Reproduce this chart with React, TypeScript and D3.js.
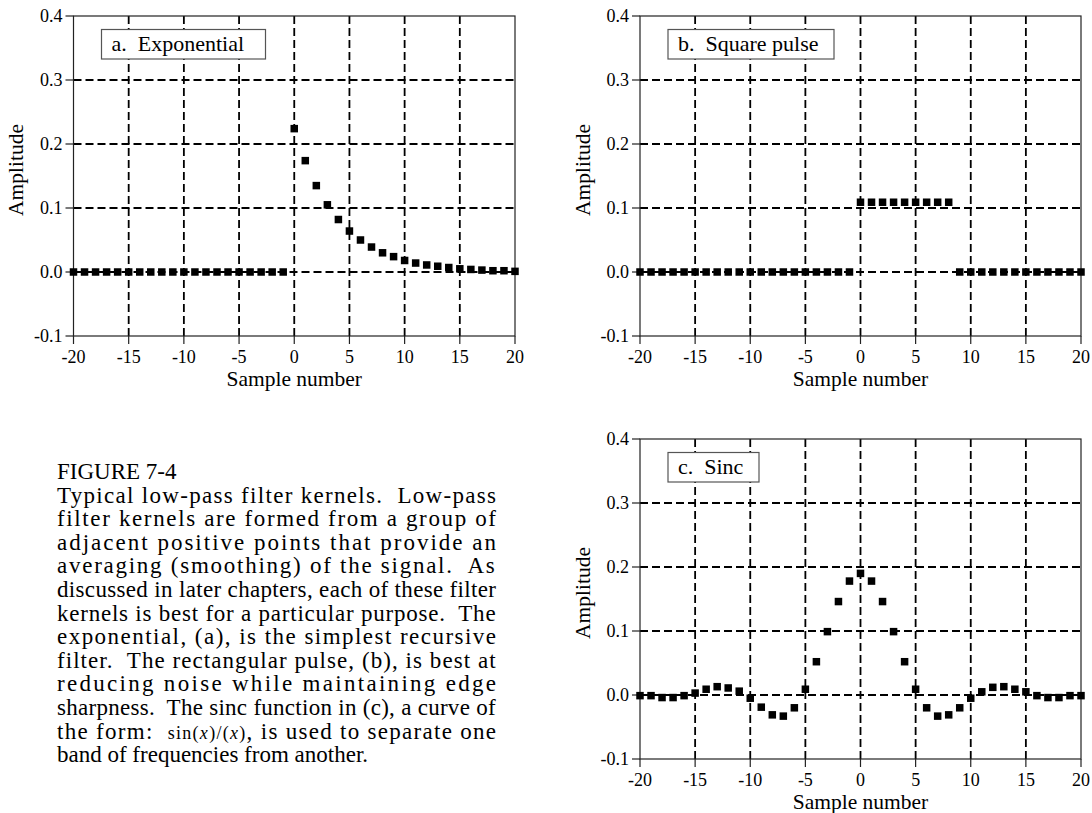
import React from 'react';
import * as d3 from 'd3';

const width = 1092;
const height = 813;
const serif = '"Liberation Serif", "Times New Roman", serif';
const nb = '\u00a0';

// sample numbers shared by the three kernels
const sampleNumbers = [
  -20, -19, -18, -17, -16, -15, -14, -13, -12, -11, -10, -9, -8, -7, -6, -5, -4, -3, -2, -1,
  0, 1, 2, 3, 4, 5, 6, 7, 8, 9, 10, 11, 12, 13, 14, 15, 16, 17, 18, 19, 20
];

const exponential = [
  0, 0, 0, 0, 0, 0, 0, 0, 0, 0, 0, 0, 0, 0, 0, 0, 0, 0, 0, 0,
  0.224, 0.174, 0.135, 0.105, 0.082, 0.064, 0.05, 0.039, 0.03, 0.024, 0.018,
  0.014, 0.011, 0.009, 0.007, 0.005, 0.004, 0.003, 0.002, 0.002, 0.001
];

const squarePulse = [
  0, 0, 0, 0, 0, 0, 0, 0, 0, 0, 0, 0, 0, 0, 0, 0, 0, 0, 0, 0,
  0.109, 0.109, 0.109, 0.109, 0.109, 0.109, 0.109, 0.109, 0.109,
  0, 0, 0, 0, 0, 0, 0, 0, 0, 0, 0, 0
];

const sinc = [
  -0.001, -0.001, -0.004, -0.004, -0.001, 0.003, 0.009, 0.013, 0.011, 0.006,
  -0.005, -0.019, -0.031, -0.033, -0.02, 0.009, 0.052, 0.099, 0.146, 0.178,
  0.19,
  0.178, 0.146, 0.099, 0.052, 0.009, -0.02, -0.033, -0.031, -0.02, -0.005,
  0.005, 0.012, 0.013, 0.009, 0.005, -0.001, -0.004, -0.004, -0.001, -0.001
];

const xTicks = [-20, -15, -10, -5, 0, 5, 10, 15, 20];
const yTicks = [-0.1, 0, 0.1, 0.2, 0.3, 0.4];
const yTickLabels = ['-0.1', '0.0', '0.1', '0.2', '0.3', '0.4'];
const legendLabels = ['a.' + nb + ' Exponential', 'b.' + nb + ' Square pulse', 'c.' + nb + ' Sinc'];

const captionTitle = 'FIGURE 7-4';
const captionLines = [
  'Typical low-pass filter kernels.' + nb + ' Low-pass',
  'filter kernels are formed from a group of',
  'adjacent positive points that provide an',
  'averaging (smoothing) of the signal.' + nb + ' As',
  'discussed in later chapters, each of these filter',
  'kernels is best for a particular purpose.' + nb + ' The',
  'exponential, (a), is the simplest recursive',
  'filter.' + nb + ' The rectangular pulse, (b), is best at',
  'reducing noise while maintaining edge',
  'sharpness.' + nb + ' The sinc function in (c), a curve of',
  '__SINC__',
  'band of frequencies from another.'
];
// pieces of the line with the small sin(x)/(x)
const sincLine = [
  { t: 'the form:' + nb + ' ', small: false, it: false },
  { t: 'sin(', small: true, it: false },
  { t: 'x', small: true, it: true },
  { t: ')/(', small: true, it: false },
  { t: 'x', small: true, it: true },
  { t: ')', small: true, it: false },
  { t: ', is used to separate one', small: false, it: false }
];

const panels = [
  { values: exponential, label: legendLabels[0], boxW: 164, left: 73.5, right: 515, top: 16, bottom: 336 },
  { values: squarePulse, label: legendLabels[1], boxW: 166, left: 640, right: 1081, top: 16, bottom: 336 },
  { values: sinc, label: legendLabels[2], boxW: 91, left: 640, right: 1081, top: 439, bottom: 759 }
];

const Panel = ({ p }) => {
  const x = d3.scaleLinear().domain([-20, 20]).range([p.left, p.right]);
  const y = d3.scaleLinear().domain([-0.1, 0.4]).range([p.bottom, p.top]);
  const ms = 7.5;
  const midY = (p.top + p.bottom) / 2 - 6;
  return (
    <g>
      {/* grid */}
      {xTicks.slice(1, -1).map(t => (
        <line key={'gx' + t} x1={x(t)} x2={x(t)} y1={p.top} y2={p.bottom}
          stroke="#000" strokeWidth={1.8} strokeDasharray="8,4" />
      ))}
      {yTicks.slice(1, -1).map(t => (
        <line key={'gy' + t} x1={p.left} x2={p.right} y1={y(t)} y2={y(t)}
          stroke="#000" strokeWidth={1.8} strokeDasharray="8,4" />
      ))}
      {/* frame */}
      <rect x={p.left} y={p.top} width={p.right - p.left} height={p.bottom - p.top}
        fill="none" stroke="#222" strokeWidth={1.2} />
      {yTicks.map((t, i) => (
        <g key={'ty' + t}>
          <line x1={p.left - 8} x2={p.left} y1={y(t)} y2={y(t)} stroke="#222" strokeWidth={1.2} />
          <text x={p.left - 11} y={y(t)} dy="0.35em" textAnchor="end" fontSize={18} fontFamily={serif}>
            {yTickLabels[i]}
          </text>
        </g>
      ))}
      {xTicks.map(t => (
        <g key={'tx' + t}>
          <line x1={x(t)} x2={x(t)} y1={p.bottom} y2={p.bottom + 8} stroke="#222" strokeWidth={1.2} />
          <text x={x(t)} y={p.bottom + 27} textAnchor="middle" fontSize={18} fontFamily={serif}>
            {t}
          </text>
        </g>
      ))}
      <text x={(p.left + p.right) / 2} y={p.bottom + 50} textAnchor="middle" fontSize={21.5} fontFamily={serif}>
        Sample number
      </text>
      <text transform={`translate(${p.left - 50.5},${midY}) rotate(-90)`} textAnchor="middle"
        fontSize={21.5} fontFamily={serif}>
        Amplitude
      </text>
      {/* legend */}
      <rect x={p.left + 28} y={p.top + 13.5} width={p.boxW} height={29.5}
        fill="#fff" stroke="#555" strokeWidth={1.2} />
      <text x={p.left + 38} y={p.top + 34.5} fontSize={22} fontFamily={serif}>
        {p.label}
      </text>
      {/* samples */}
      {p.values.map((v, i) => (
        <rect key={'m' + i} x={x(sampleNumbers[i]) - ms / 2} y={y(v) - ms / 2} width={ms} height={ms} fill="#000" />
      ))}
    </g>
  );
};

let measureCtx = null;
const measure = (s, size, italic) => {
  if (!measureCtx) measureCtx = document.createElement('canvas').getContext('2d');
  measureCtx.font = `${italic ? 'italic ' : ''}${size}px ${serif}`;
  return measureCtx.measureText(s).width;
};

const Caption = () => {
  const left = 57;
  const w = 439;
  const top = 479;
  const lh = 23.6;
  const fs = 23;
  const small = 18;
  return (
    <g fontFamily={serif} fontSize={fs} fill="#000">
      <text x={left} y={top}>{captionTitle}</text>
      {captionLines.map((line, i) => {
        const yy = top + lh * (i + 1);
        const last = i === captionLines.length - 1;
        if (line === '__SINC__') {
          const natural = d3.sum(sincLine, d => measure(d.t, d.small ? small : fs, d.it));
          const n = d3.sum(sincLine, d => d.t.length);
          const ls = (w - natural) / (n - 1);
          return (
            <text key={i} x={left} y={yy} style={{ letterSpacing: ls + 'px' }}>
              {sincLine.map((d, j) => (
                <tspan key={j} fontSize={d.small ? small : fs} fontStyle={d.it ? 'italic' : 'normal'}>{d.t}</tspan>
              ))}
            </text>
          );
        }
        const ls = last ? 0 : (w - measure(line, fs, false)) / (line.length - 1);
        return (
          <text key={i} x={left} y={yy} style={{ letterSpacing: ls + 'px' }}>{line}</text>
        );
      })}
    </g>
  );
};

export default function App() {
  return (
    <svg width={width} height={height} style={{ position: 'absolute', left: 0, top: 0, background: '#fff' }}>
      {panels.map((p, i) => <Panel key={i} p={p} />)}
      <Caption />
    </svg>
  );
}
